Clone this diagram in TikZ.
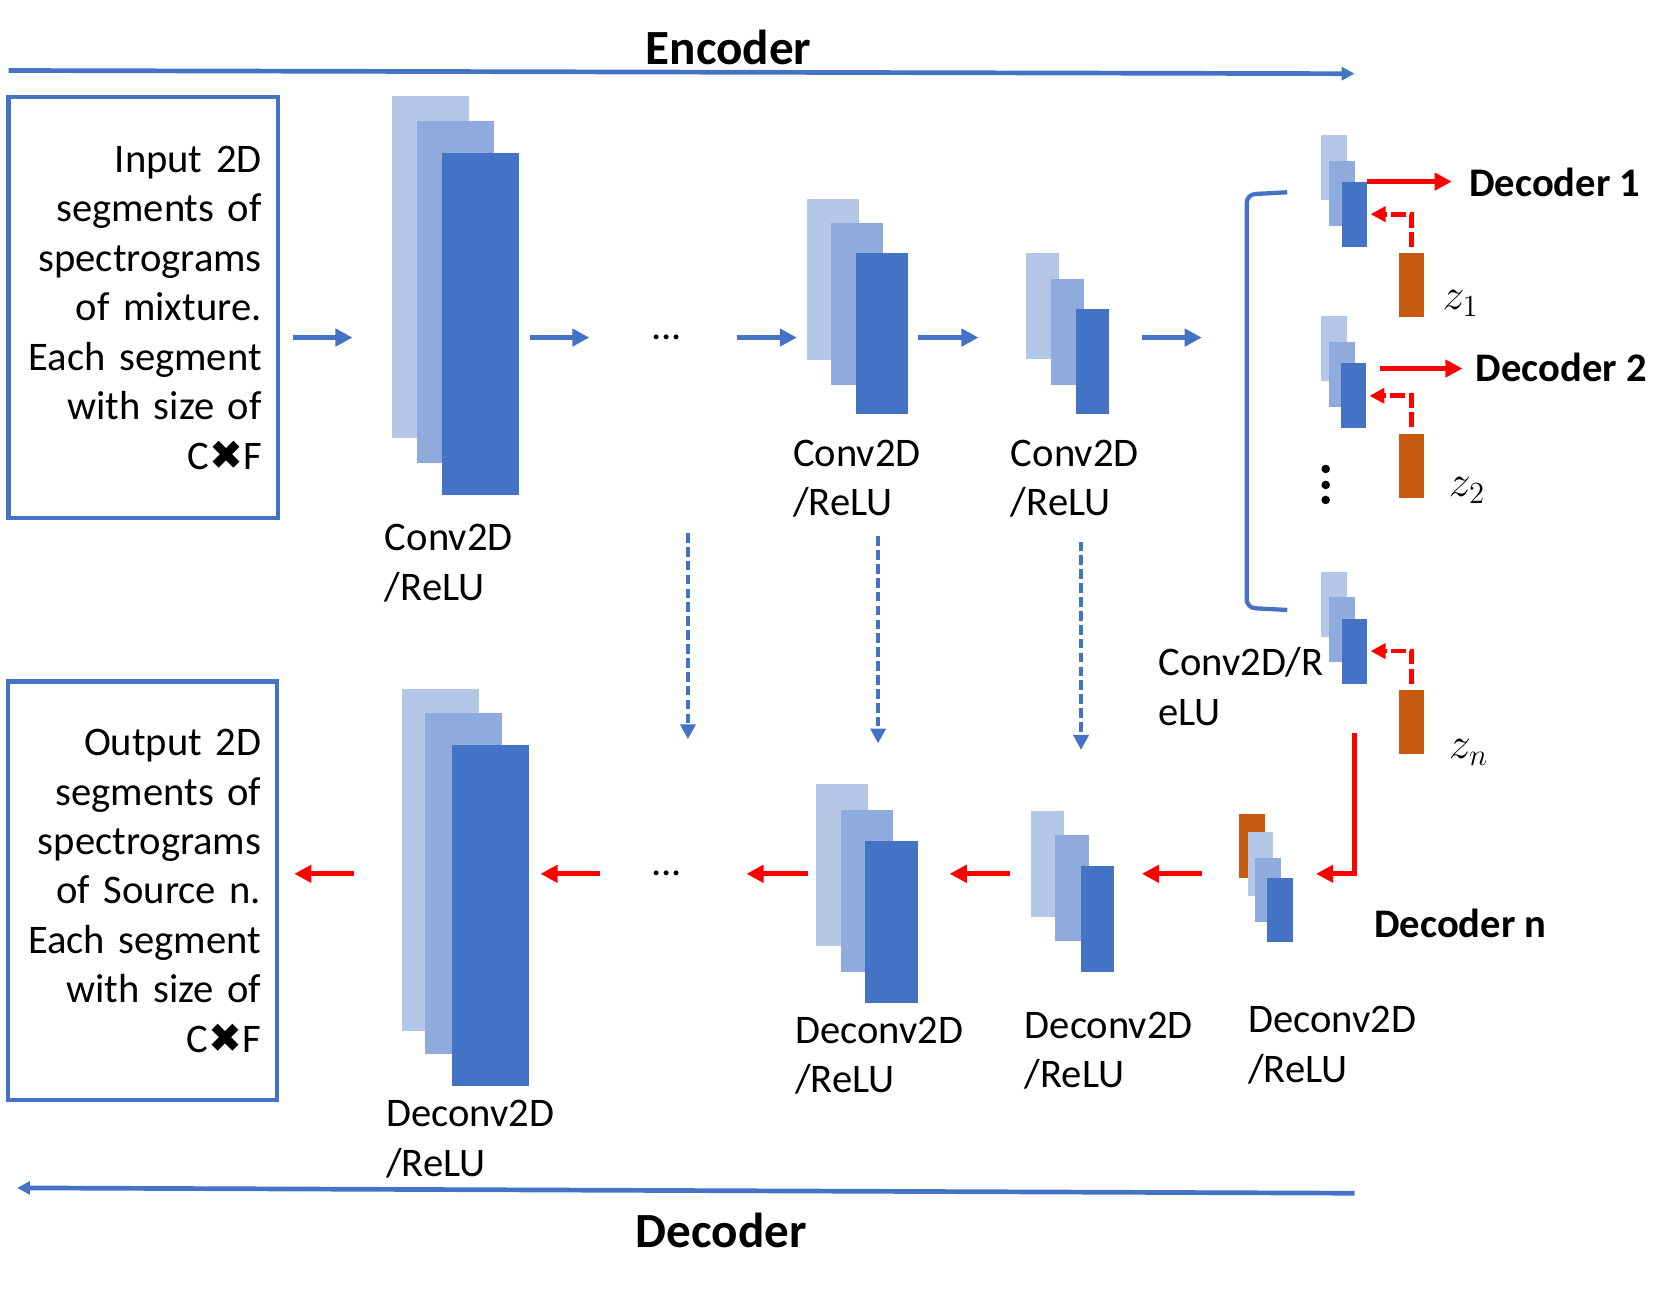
\documentclass[tikz,border=0pt]{standalone}
\usepackage{fontspec}
\setmainfont{Carlito}
\newfontfamily\symbolfont{DejaVu Sans}
\usetikzlibrary{arrows.meta}

\definecolor{ublue}{HTML}{4472C4}
\definecolor{ulite}{HTML}{B4C7E7}
\definecolor{umid}{HTML}{8FAADC}
\definecolor{uorange}{HTML}{C55A11}

\tikzset{
  lite/.style={fill=ulite, inner sep=0, outer sep=0, anchor=north west},
  midl/.style={fill=umid, inner sep=0, outer sep=0, anchor=north west},
  dark/.style={fill=ublue, inner sep=0, outer sep=0, anchor=north west},
  zcode/.style={fill=uorange, inner sep=0, outer sep=0, anchor=north west,
    minimum width=11.5pt, minimum height=30pt},
  iobox/.style={draw=ublue, line width=2pt, minimum width=126pt, text width=111pt,
    align=right, inner xsep=7.5pt},
  lbl/.style={align=left, anchor=base west, inner sep=0},
  title/.style={font=\bfseries\fontsize{23}{28}\selectfont, anchor=base},
  barrow/.style={draw=ublue, line width=2.2pt, -{Triangle[length=8pt,width=8pt]}},
  rarrow/.style={draw=red, line width=2.2pt, -{Triangle[length=8pt,width=8pt]}},
  rdash/.style={draw=red, line width=2.2pt, dash pattern=on 7pt off 2pt,
    -{Triangle[length=7pt,width=7pt]}},
  skip/.style={draw=ublue, line width=2pt, dash pattern=on 4.5pt off 2pt,
    -{Triangle[length=7pt,width=7pt]}},
  bline/.style={draw=ublue, line width=2.2pt, -{Triangle[length=6pt,width=6pt]}},
}

\begin{document}
\begin{tikzpicture}[x=0.5pt, y=-0.5pt, font=\fontsize{19}{23.15}\selectfont]
\useasboundingbox (0,0) rectangle (1568,1209);
% rows of the horizontal arrows
\coordinate (rowE) at (0,316);
\coordinate (rowD) at (0,818);
% Encoder / Decoder span lines
\coordinate (encL) at (8,66);
\coordinate (encR) at (1268,69);
\coordinate (decR) at (1268,1117);
\coordinate (decL) at (16,1112);
\draw[bline] (encL) -- (encR);
\draw[bline] (decR) -- (decL);
\node[title] (enc) at (682,60) {Encoder};
\node[title] (dec) at (675,1168) {Decoder};

% Input and output boxes
\node[iobox, minimum height=197pt] (in) at (134,288)
  {Input 2D\\segments of\\spectrograms\\of mixture.\\Each segment\\with size of\\C{\symbolfont ✖}F};
\node[iobox, minimum height=196pt] (out) at (133.5,834)
  {Output 2D\\segments of\\spectrograms\\of Source n.\\Each segment\\with size of\\C{\symbolfont ✖}F};

% Encoder stacks
\node[lite, minimum width=36pt, minimum height=160pt] (c1a) at (367,90) {};
\node[midl, minimum width=36pt, minimum height=160pt] (c1b) at (390,113) {};
\node[dark, minimum width=36pt, minimum height=160pt] (c1c) at (414,143) {};
\node[lbl] (c1l) at (360,562) {Conv2D\\/ReLU};
\node[inner sep=0] (dotsE) at (624,316) {...};
\node[lite, minimum width=24.5pt, minimum height=75.5pt] (c2a) at (755,186) {};
\node[midl, minimum width=24.5pt, minimum height=75.5pt] (c2b) at (778,209) {};
\node[dark, minimum width=24.5pt, minimum height=75.5pt] (c2c) at (801,237) {};
\node[lbl] (c2l) at (742,483) {Conv2D\\/ReLU};
\node[lite, minimum width=15.5pt, minimum height=49.5pt] (c3a) at (960,237) {};
\node[midl, minimum width=15.5pt, minimum height=49.5pt] (c3b) at (984,261) {};
\node[dark, minimum width=15.5pt, minimum height=49.5pt] (c3c) at (1007,289) {};
\node[lbl] (c3l) at (946,483) {Conv2D\\/ReLU};

% Bracket round the latent stacks
\coordinate (brk) at (1167,316);
\draw[ublue, line width=2pt, rounded corners=4pt] (1205,180) -- (1167,182) -- (1167,569) -- (1205,571);

% Latent stacks and codes
\node[lite, minimum width=12pt, minimum height=30.5pt] (s1a) at (1237,126) {};
\node[midl, minimum width=12pt, minimum height=30.5pt] (s1b) at (1244,151) {};
\node[dark, minimum width=12pt, minimum height=30.5pt] (s1c) at (1256,170) {};
\node[zcode] (z1) at (1310,237) {};
\node[lite, minimum width=12pt, minimum height=30.5pt] (s2a) at (1237,296) {};
\node[midl, minimum width=12pt, minimum height=30.5pt] (s2b) at (1244,320) {};
\node[dark, minimum width=12pt, minimum height=30.5pt] (s2c) at (1255,340) {};
\node[zcode] (z2) at (1310,406) {};
\node[lite, minimum width=12pt, minimum height=30.5pt] (sna) at (1237,535) {};
\node[midl, minimum width=12pt, minimum height=30.5pt] (snb) at (1244,559) {};
\node[dark, minimum width=12pt, minimum height=30.5pt] (snc) at (1256,579) {};
\node[zcode] (zn) at (1310,646) {};
\foreach \y in {439,454,468}
  \fill (1241,\y) circle[radius=2pt];
\node[lbl, font=\fontsize{22}{26}\selectfont] (z1l) at (1350,290) {$z_1$};
\node[lbl, font=\fontsize{22}{26}\selectfont] (z2l) at (1356,465) {$z_2$};
\node[lbl, font=\fontsize{22}{26}\selectfont] (znl) at (1356,710) {$z_n$};
\node[lbl] (snl) at (1084,679) {Conv2D/R\\eLU};
\node[lbl, font=\bfseries\fontsize{19}{23}\selectfont] (dec1) at (1375,184) {Decoder 1};
\node[lbl, font=\bfseries\fontsize{19}{23}\selectfont] (dec2) at (1381,357) {Decoder 2};
\node[lbl, font=\bfseries\fontsize{19}{23}\selectfont] (decn) at (1286,878) {Decoder n};

% Decoder stacks
\node[zcode, minimum width=12pt] (dn0) at (1160,762) {};
\node[lite, minimum width=12pt, minimum height=30pt] (dna) at (1168,779) {};
\node[midl, minimum width=12pt, minimum height=30pt] (dnb) at (1175,803) {};
\node[dark, minimum width=12pt, minimum height=30pt] (dnc) at (1186,822) {};
\node[lbl] (dnl) at (1168,1013) {Deconv2D\\/ReLU};
\node[lite, minimum width=15.5pt, minimum height=49.5pt] (d3a) at (965,759) {};
\node[midl, minimum width=15.5pt, minimum height=49.5pt] (d3b) at (988,782) {};
\node[dark, minimum width=15.5pt, minimum height=49.5pt] (d3c) at (1012,811) {};
\node[lbl] (d3l) at (959,1018) {Deconv2D\\/ReLU};
\node[lite, minimum width=24.5pt, minimum height=76pt] (d2a) at (764,734) {};
\node[midl, minimum width=24.5pt, minimum height=76pt] (d2b) at (787,758) {};
\node[dark, minimum width=24.5pt, minimum height=76pt] (d2c) at (810,787) {};
\node[lbl] (d2l) at (744,1023) {Deconv2D\\/ReLU};
\node[inner sep=0] (dotsD) at (624,818) {...};
\node[lite, minimum width=36pt, minimum height=160pt] (d1a) at (376,645) {};
\node[midl, minimum width=36pt, minimum height=160pt] (d1b) at (398,667) {};
\node[dark, minimum width=36pt, minimum height=160pt] (d1c) at (423,697) {};
\node[lbl] (d1l) at (361,1101) {Deconv2D\\/ReLU};

% Encoder arrows
\draw[barrow, shorten <=6pt, shorten >=18.5pt] (in.east |- rowE) -- (c1a.west |- rowE);
\draw[barrow, shorten <=5pt, shorten >=28.75pt] (c1c.east |- rowE) -- (dotsE.west |- rowE);
\draw[barrow, shorten <=25.75pt, shorten >=4.5pt] (dotsE.east |- rowE) -- (c2a.west |- rowE);
\draw[barrow, shorten <=4.5pt, shorten >=22pt] (c2c.east |- rowE) -- (c3a.west |- rowE);
\draw[barrow, shorten <=15.5pt, shorten >=21pt] (c3c.east |- rowE) -- (brk);

% Latent codes into the decoders
\draw[rarrow, shorten >=8pt] (s1c.north east) -- (s1c.north east -| dec1.west);
\draw[rarrow, shorten <=6.5pt, shorten >=6pt] ([yshift=-2.5pt]s2c.north east) -- ([yshift=-2.5pt]s2c.north east -| dec2.west);
\draw[rdash, shorten <=3pt, shorten >=1.5pt] (z1.north) |- (s1c.east);
\draw[rdash, shorten <=3pt, shorten >=1.5pt] (z2.north) |- (s2c.east);
\draw[rdash, shorten <=3pt, shorten >=1.5pt] (zn.north) |- (snc.east);

% Skip connections
\coordinate (skA) at (644,499);
\coordinate (skAe) at (644,692);
\coordinate (skB) at (822,502);
\coordinate (skBe) at (822,696);
\coordinate (skC) at (1012,507);
\coordinate (skCe) at (1012,702);
\draw[skip] (skA) -- (skAe);
\draw[skip] (skB) -- (skBe);
\draw[skip] (skC) -- (skCe);

% Decoder arrows
\draw[rarrow, shorten <=23pt, shorten >=11pt] (snc.south) |- (dnc.east |- rowD);
\draw[rarrow, shorten <=17.5pt, shorten >=13pt] (dn0.west |- rowD) -- (d3c.east |- rowD);
\draw[rarrow, shorten <=10pt, shorten >=15pt] (d3a.west |- rowD) -- (d2c.east |- rowD);
\draw[rarrow, shorten <=4pt, shorten >=30pt] (d2a.west |- rowD) -- (dotsD.east |- rowD);
\draw[rarrow, shorten <=23.75pt, shorten >=5.5pt] (dotsD.west |- rowD) -- (d1c.east |- rowD);
\draw[rarrow, shorten <=22.5pt, shorten >=7pt] (d1a.west |- rowD) -- (out.east |- rowD);
\end{tikzpicture}
\end{document}
